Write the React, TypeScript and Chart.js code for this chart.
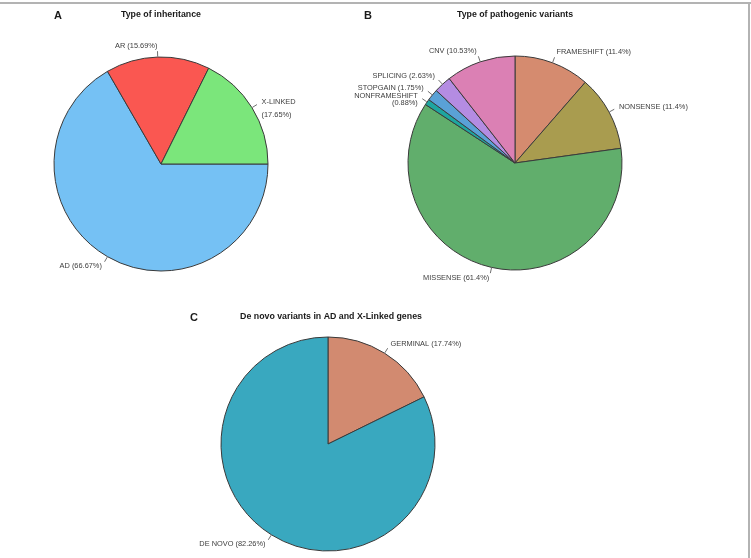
import React, { useEffect, useRef } from "react";
import { Chart, registerables } from "chart.js";

Chart.register(...registerables);

const W = 751;
const H = 558;

// Panel A: type of inheritance (shares in %)
const inheritanceCategories = ["AD", "AR", "X-LINKED"];
const inheritanceShares = [66.67, 15.69, 17.65];
const inheritanceColors = ["#75C1F4", "#FA5751", "#7BE67B"];

// Panel B: type of pathogenic variants (shares in %)
const variantCategories = [
  "FRAMESHIFT",
  "NONSENSE",
  "MISSENSE",
  "NONFRAMESHIFT",
  "STOPGAIN",
  "SPLICING",
  "CNV",
];
const variantShares = [11.4, 11.4, 61.4, 0.88, 1.75, 2.63, 10.53];
const variantColors = [
  "#D58B6F",
  "#A99C4F",
  "#61AE6C",
  "#1EA6A0",
  "#5AA1D6",
  "#B48CE2",
  "#DB80B4",
];

// Panel C: de novo variants in AD and X-linked genes (shares in %)
const originCategories = ["GERMINAL", "DE NOVO"];
const originShares = [17.74, 82.26];
const originColors = ["#D28A70", "#39A8BF"];

// Categories whose percentage goes on a second line
const twoLineCategories = ["X-LINKED", "NONFRAMESHIFT"];

const LABEL_FONT = '7.4px "Liberation Sans", Arial, sans-serif';
const TITLE_FONT = 'bold 8.8px "Liberation Sans", Arial, sans-serif';
const LETTER_FONT = 'bold 11px "Liberation Sans", Arial, sans-serif';
const RADIUS = 107;

type Panel = {
  categories: string[];
  shares: number[];
  colors: string[];
  cx: number;
  cy: number;
  rotation: number;
  lineHeight: number;
  letter: string;
  letterX: number;
  letterY: number;
  title: string;
  titleX: number;
  titleY: number;
};

const panels: Panel[] = [
  {
    categories: inheritanceCategories,
    shares: inheritanceShares,
    colors: inheritanceColors,
    cx: 161,
    cy: 164,
    rotation: 90,
    lineHeight: 13,
    letter: "A",
    letterX: 58,
    letterY: 16,
    title: "Type of inheritance",
    titleX: 161,
    titleY: 15,
  },
  {
    categories: variantCategories,
    shares: variantShares,
    colors: variantColors,
    cx: 515,
    cy: 163,
    rotation: 0,
    lineHeight: 7.8,
    letter: "B",
    letterX: 368,
    letterY: 16,
    title: "Type of pathogenic variants",
    titleX: 515,
    titleY: 15,
  },
  {
    categories: originCategories,
    shares: originShares,
    colors: originColors,
    cx: 328,
    cy: 444,
    rotation: 0,
    lineHeight: 8,
    letter: "C",
    letterX: 194,
    letterY: 318,
    title: "De novo variants in AD and X-Linked genes",
    titleX: 331,
    titleY: 317,
  },
];

function labelText(cat: string, share: number): string {
  const sep = twoLineCategories.includes(cat) ? "\n" : " ";
  return `${cat}${sep}(${share}%)`;
}

function panelPlugin(p: Panel) {
  return {
    id: "pieAnnotations",
    afterDatasetsDraw(chart: any) {
      const ctx: CanvasRenderingContext2D = chart.ctx;
      const meta = chart.getDatasetMeta(0);
      const labels: string[] = chart.data.labels;
      ctx.save();
      ctx.font = LABEL_FONT;
      ctx.fillStyle = "#3d3d3d";
      ctx.strokeStyle = "#4a4a4a";
      ctx.lineWidth = 0.8;
      ctx.textBaseline = "middle";
      meta.data.forEach((arc: any, i: number) => {
        const { x, y, startAngle, endAngle, outerRadius } = arc.getProps(
          ["x", "y", "startAngle", "endAngle", "outerRadius"],
          true
        );
        const r = outerRadius + 0.5;
        const mid = (startAngle + endAngle) / 2;
        const c = Math.cos(mid);
        const s = Math.sin(mid);
        ctx.beginPath();
        ctx.moveTo(x + r * c, y + r * s);
        ctx.lineTo(x + 1.05 * r * c, y + 1.05 * r * s);
        ctx.stroke();
        ctx.textAlign = c < 0 ? "right" : "left";
        const lx = x + 1.1 * r * c;
        const ly = y + 1.1 * r * s;
        String(labels[i])
          .split("\n")
          .forEach((ln, k) => ctx.fillText(ln, lx, ly + k * p.lineHeight));
      });
      ctx.fillStyle = "#1a1a1a";
      ctx.textAlign = "center";
      ctx.font = TITLE_FONT;
      ctx.fillText(p.title, p.titleX, p.titleY);
      ctx.font = LETTER_FONT;
      ctx.fillText(p.letter, p.letterX, p.letterY);
      ctx.restore();
    },
  };
}

function PiePanel({ p }: { p: Panel }) {
  const ref = useRef<HTMLCanvasElement>(null);
  useEffect(() => {
    if (!ref.current) return;
    const half = RADIUS + 0.5;
    const chart = new Chart(ref.current, {
      type: "pie",
      data: {
        labels: p.categories.map((c, i) => labelText(c, p.shares[i])),
        datasets: [
          {
            data: p.shares,
            backgroundColor: p.colors,
            borderColor: "#3a3a3a",
            borderWidth: 1,
          },
        ],
      },
      options: {
        responsive: false,
        animation: false,
        rotation: p.rotation,
        layout: {
          padding: {
            left: p.cx - half,
            right: W - (p.cx + half),
            top: p.cy - half,
            bottom: H - (p.cy + half),
          },
        },
        plugins: {
          legend: { display: false },
          tooltip: { enabled: false },
          title: { display: false },
        },
      },
      plugins: [panelPlugin(p)],
    });
    return () => chart.destroy();
  }, [p]);
  return (
    <canvas
      ref={ref}
      width={W}
      height={H}
      style={{ position: "absolute", left: 0, top: 0, width: W, height: H }}
    />
  );
}

export default function App() {
  return (
    <div
      style={{
        position: "absolute",
        left: 0,
        top: 0,
        width: W,
        height: H,
        background: "#ffffff",
        overflow: "hidden",
      }}
    >
      <div
        style={{
          position: "absolute",
          left: 0,
          top: 2,
          width: W,
          height: 2,
          background: "#b3b3b3",
        }}
      />
      <div
        style={{
          position: "absolute",
          left: 748,
          top: 2,
          width: 2,
          height: H - 2,
          background: "#b3b3b3",
        }}
      />
      {panels.map((p) => (
        <PiePanel key={p.letter} p={p} />
      ))}
    </div>
  );
}
